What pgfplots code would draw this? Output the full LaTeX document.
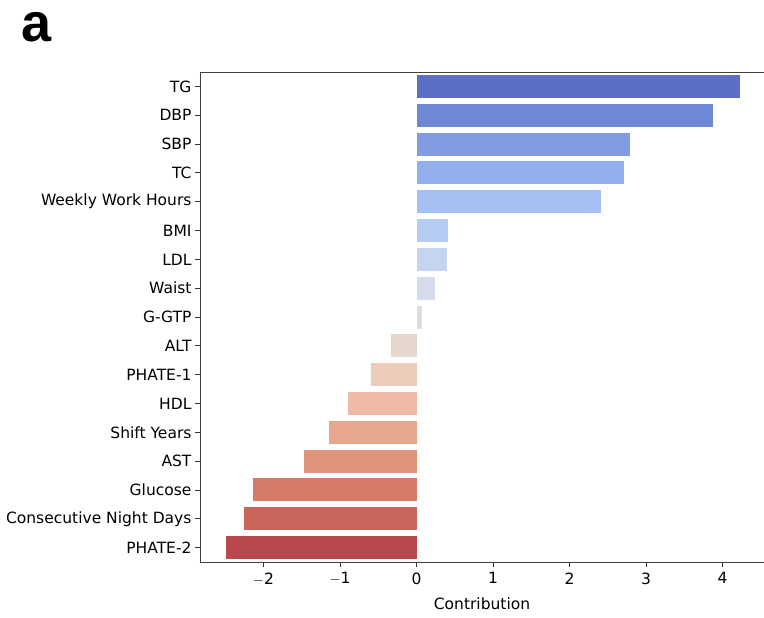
\documentclass[border=0pt]{standalone}
\usepackage{pgfplots}
\pgfplotsset{compat=1.18}
\usepackage{fontspec}
\setmainfont{DejaVu Sans}
\newfontfamily\titlefont{Liberation Sans}
\definecolor{c0}{HTML}{5B70C4}
\definecolor{c1}{HTML}{6E88D6}
\definecolor{c2}{HTML}{829CE3}
\definecolor{c3}{HTML}{92AEEC}
\definecolor{c4}{HTML}{A5C0F3}
\definecolor{c5}{HTML}{B5CBF2}
\definecolor{c6}{HTML}{C5D5F0}
\definecolor{c7}{HTML}{D3DCEA}
\definecolor{c8}{HTML}{DDDDDD}
\definecolor{c9}{HTML}{E5D6CE}
\definecolor{c10}{HTML}{ECCBBA}
\definecolor{c11}{HTML}{EDBBA3}
\definecolor{c12}{HTML}{E8A78C}
\definecolor{c13}{HTML}{E09479}
\definecolor{c14}{HTML}{D57C68}
\definecolor{c15}{HTML}{C9655A}
\definecolor{c16}{HTML}{B8484A}
\begin{document}
\begin{tikzpicture}[x=1pt,y=1pt]
\useasboundingbox (-200,-56) rectangle (564,562);
\begin{axis}[
  at={(0,0)}, anchor=south west,
  scale only axis, width=564pt, height=490pt,
  xmin=-2.83, xmax=4.54, ymin=-0.5, ymax=16.5,
  y dir=reverse,
  xbar, bar width=23pt, bar shift=0pt,
  axis y line*=left, axis x line*=box,
  axis line style={draw=black!75, line width=0.9pt},
  xtick={-2,-1,0,1,2,3,4},
  xticklabels={$-$2,$-$1,0,1,2,3,4},
  xtick pos=bottom, ytick pos=left,
  tick align=outside,
  major tick length=5pt,
  tick style={black!80, line width=0.8pt},
  ytick={0,...,16},
  yticklabels={TG,DBP,SBP,TC,Weekly\ Work\ Hours,BMI,LDL,Waist,G-GTP,ALT,PHATE-1,HDL,Shift\ Years,AST,Glucose,Consecutive\ Night\ Days,PHATE-2},
  ticklabel style={font=\fontsize{15.5}{17}\selectfont},
  xticklabel style={yshift=-2pt},
  /pgf/number format/assume math mode=true,
  xlabel={Contribution},
  xlabel style={font=\fontsize{15.5}{17}\selectfont, yshift=-6pt},
  every axis plot/.append style={draw=none},
]
\addplot[fill=c0] coordinates {(4.22,0)};
\addplot[fill=c1] coordinates {(3.87,1)};
\addplot[fill=c2] coordinates {(2.79,2)};
\addplot[fill=c3] coordinates {(2.71,3)};
\addplot[fill=c4] coordinates {(2.41,4)};
\addplot[fill=c5] coordinates {(0.41,5)};
\addplot[fill=c6] coordinates {(0.40,6)};
\addplot[fill=c7] coordinates {(0.24,7)};
\addplot[fill=c8] coordinates {(0.07,8)};
\addplot[fill=c9] coordinates {(-0.34,9)};
\addplot[fill=c10] coordinates {(-0.60,10)};
\addplot[fill=c11] coordinates {(-0.89,11)};
\addplot[fill=c12] coordinates {(-1.14,12)};
\addplot[fill=c13] coordinates {(-1.47,13)};
\addplot[fill=c14] coordinates {(-2.14,14)};
\addplot[fill=c15] coordinates {(-2.26,15)};
\addplot[fill=c16] coordinates {(-2.49,16)};
\end{axis}
\node[anchor=north west, inner sep=0pt, font=\titlefont\bfseries\fontsize{54}{54}\selectfont] at (-179,550) {a};
\end{tikzpicture}
\end{document}
